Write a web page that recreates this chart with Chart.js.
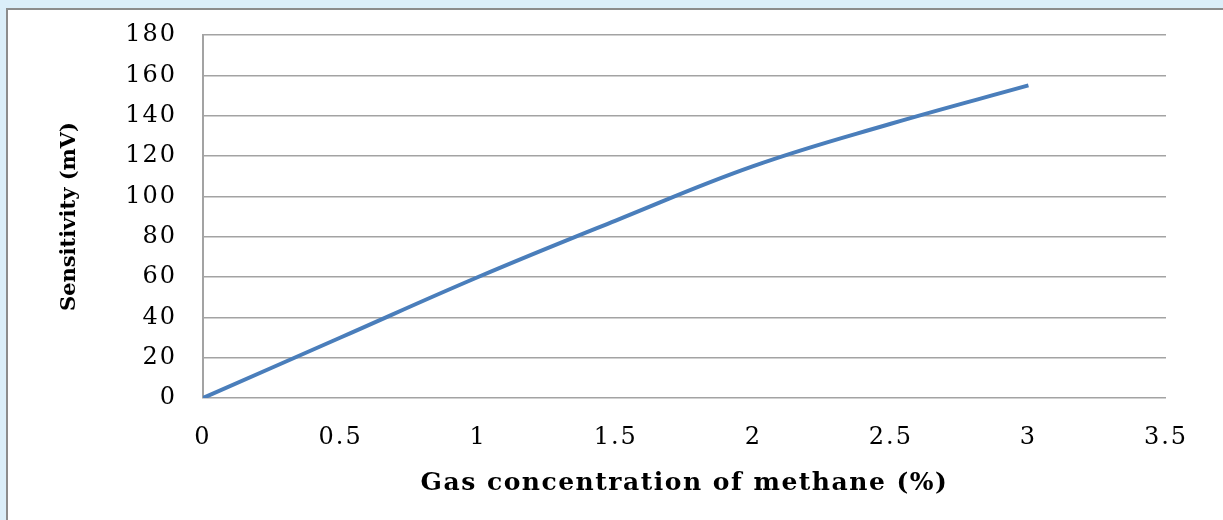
<!DOCTYPE html>
<html>
<head>
<meta charset="utf-8">
<script src="https://cdn.jsdelivr.net/npm/chart.js@4"></script>
<style>
  html, body { margin: 0; padding: 0; background: #dbeef9; overflow: hidden; }
  .frame {
    position: absolute; left: 6px; top: 8px; width: 1240px; height: 540px;
    background: #ffffff; border: 2px solid #8c8c8c; box-sizing: border-box;
  }
  #chart { position: absolute; left: 0; top: 0; }
</style>
</head>
<body>
<div class="frame"></div>
<canvas id="chart" width="1223" height="520"></canvas>
<script>
const concentration = [0, 0.5, 1, 1.5, 2, 2.5, 3];
const sensitivity = [0, 30, 60, 88, 115, 136, 155];
const xTickLabels = ['0', '0.5', '1', '1.5', '2', '2.5', '3', '3.5'];
const yTickLabels = ['0', '20', '40', '60', '80', '100', '120', '140', '160', '180'];

const GRID = '#a3a3a3';
const SERIF = "'DejaVu Serif', 'Liberation Serif', serif";

// the source picture is stretched sideways, so widen some of the text
const letterSpacingPlugin = {
  id: 'letterSpacing',
  beforeInit(chart) {
    const ctx = chart.ctx;
    const fill = ctx.fillText.bind(ctx);
    const measure = ctx.measureText.bind(ctx);
    const pick = () => {
      if (ctx.font.includes('25px')) return '1.5px';
      if (ctx.font.includes('bold')) return '0px';
      return '2px';
    };
    ctx.fillText = (text, x, y, w) => {
      ctx.letterSpacing = pick();
      return w === undefined ? fill(text, x, y) : fill(text, x, y, w);
    };
    ctx.measureText = (text) => {
      ctx.letterSpacing = pick();
      return measure(text);
    };
  },
};

new Chart(document.getElementById('chart'), {
  type: 'line',
  data: {
    datasets: [
      {
        data: concentration.map((x, i) => ({ x, y: sensitivity[i] })),
        borderColor: '#4a7ebb',
        borderWidth: 4,
        pointRadius: 0,
        tension: 0.4,
        fill: false,
      },
    ],
  },
  options: {
    responsive: false,
    animation: false,
    layout: { padding: { top: 35, right: 57, bottom: 0, left: 0 } },
    plugins: { legend: { display: false }, tooltip: { enabled: false } },
    scales: {
      x: {
        type: 'linear',
        min: 0,
        max: 3.5,
        afterFit: (scale) => {
          scale.height = 122;
          scale.paddingLeft = 0;
          scale.paddingRight = 0;
        },
        grid: { display: false, drawTicks: false },
        border: { display: false },
        ticks: {
          stepSize: 0.5,
          padding: 25,
          color: '#000',
          font: { family: SERIF, size: 24 },
          callback: (value, index) => xTickLabels[index],
        },
        title: {
          display: true,
          text: 'Gas concentration of methane (%)',
          color: '#000',
          font: { family: SERIF, size: 25, weight: 'bold' },
          padding: { top: 0, bottom: 22 },
        },
      },
      y: {
        min: 0,
        max: 180,
        afterFit: (scale) => {
          scale.width = 203;
          scale.paddingTop = 0;
          scale.paddingBottom = 0;
        },
        grid: { color: GRID, lineWidth: 1.5, drawTicks: false },
        border: { display: true, color: GRID, width: 2 },
        ticks: {
          stepSize: 20,
          padding: 26,
          color: '#000',
          font: { family: SERIF, size: 24 },
          callback: (value, index) => yTickLabels[index],
        },
        title: {
          display: true,
          text: 'Sensitivity (mV)',
          color: '#000',
          font: { family: SERIF, size: 21, weight: 'bold' },
          padding: { top: 57, bottom: 0 },
        },
      },
    },
  },
  plugins: [letterSpacingPlugin],
});
</script>
</body>
</html>
